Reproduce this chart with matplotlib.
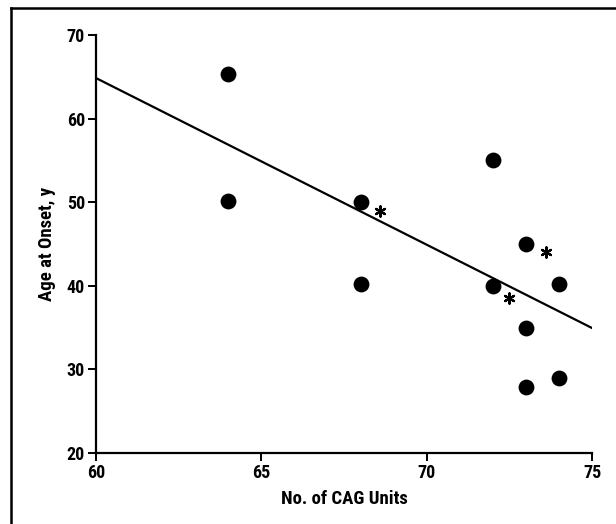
import matplotlib
matplotlib.use("Agg")
import matplotlib.pyplot as plt
from matplotlib.lines import Line2D
from matplotlib import font_manager as fm

_names = {f.name for f in fm.fontManager.ttflist}
_pref = ['Liberation Sans Narrow', 'Nimbus Sans Narrow', 'Roboto Condensed', 'Asap Condensed', 'Barlow Semi Condensed']
_font = [n for n in _pref if n in _names][:1]
plt.rcParams['font.family'] = _font + ['Liberation Sans', 'DejaVu Sans']

# Data
dot_x = [64, 64, 68, 68, 72, 72, 73, 73, 73, 74, 74]
dot_y = [65.3, 50.2, 50.0, 40.2, 55.0, 40.0, 45.0, 35.0, 27.9, 40.2, 29.0]
star_x = [68.6, 73.6, 72.5]
star_y = [48.9, 44.1, 38.6]
fit_x = [60, 75]
fit_y = [64.85, 34.95]
xticks = [60, 65, 70, 75]
yticks = [20, 30, 40, 50, 60, 70]

W, H = 616, 524
fig = plt.figure(figsize=(W / 100, H / 100), dpi=100)
ax = fig.add_axes([96 / W, 1 - 453 / H, (592 - 96) / W, (453 - 35) / H])

ax.plot(fit_x, fit_y, color='black', lw=1.6, zorder=2)
ax.scatter(dot_x, dot_y, s=130, color='black', zorder=3, linewidths=0)
ax.scatter(star_x, star_y, s=55, marker=(6, 2, 0), color='black', linewidths=1.6, zorder=3)

ax.set_xlim(60, 75)
ax.set_ylim(20, 70)
ax.set_xticks(xticks)
ax.set_yticks(yticks)
for s in ['top', 'right']:
    ax.spines[s].set_visible(False)
for s in ['left', 'bottom']:
    ax.spines[s].set_linewidth(1.6)
ax.tick_params(direction='out', length=6, width=1.4, labelsize=13, pad=2)
for lab in ax.get_xticklabels() + ax.get_yticklabels():
    lab.set_fontweight('bold')
ax.set_xlabel('No. of CAG Units', fontsize=13.5, fontweight='bold', labelpad=6)
ax.set_ylabel('Age at Onset, y', fontsize=13.5, fontweight='bold', labelpad=8)

fig.add_artist(Line2D([11 / W, 11 / W], [0, 1 - 8 / H], transform=fig.transFigure, color='black', lw=1.8))
fig.add_artist(Line2D([11 / W, 1], [1 - 8 / H, 1 - 8 / H], transform=fig.transFigure, color='black', lw=1.8))

fig.savefig('out.png', dpi=100)
